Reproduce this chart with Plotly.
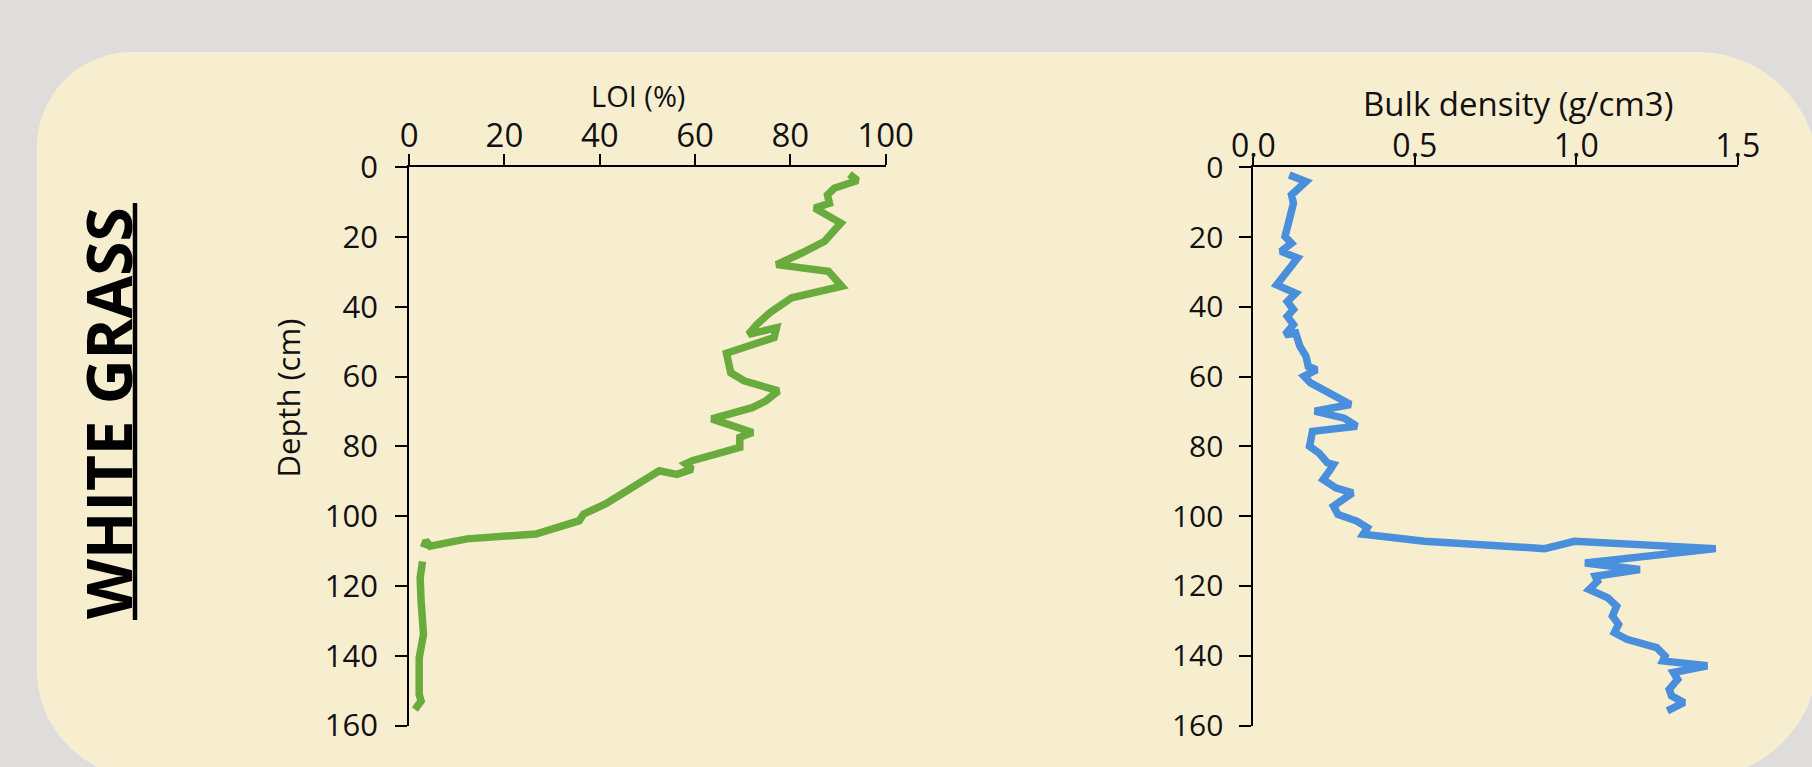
import plotly.graph_objects as go

W, H = 1812, 767

# Loss on ignition profile (depth in cm, LOI in %); None marks the sampling gap
loi_depth = [2.0, 3.8, 6.0, 7.9, 10.3, 11.7, 16.0, 18.9, 21.2, 24.5, 27.0, 27.9,
             29.8, 34.1, 37.4, 41.7, 45.0, 47.9, 46.0, 48.8, 53.3, 58.9, 61.2,
             64.1, 67.0, 68.9, 72.1, 76.0, 77.4, 80.3, 84.1, 85.0, 86.5, 88.0,
             87.0, 92.6, 96.5, 99.4, 101.3, 105.1, 106.5, 108.6, 107.0, 109.0,
             None, 113.0, 117.6, 124.3, 133.9, 140.6, 151.1, 153.0, 155.4]
loi_pct = [92.4, 94.1, 89.2, 87.8, 88.2, 85.1, 90.6, 88.9, 87.2, 82.5, 78.5, 77.1,
           88.0, 90.8, 80.3, 75.7, 73.0, 71.2, 77.1, 76.6, 66.6, 67.5, 70.3,
           77.5, 74.8, 72.0, 63.5, 72.1, 69.4, 69.4, 59.4, 58.0, 59.4, 56.2,
           52.5, 45.7, 41.2, 36.6, 35.7, 26.6, 12.1, 4.4, 3.5, 3.0,
           None, 2.8, 2.3, 2.5, 3.0, 2.1, 2.1, 2.5, 1.2]

# Bulk density profile (depth in cm, g/cm3)
bd_depth = [2.2, 4.1, 7.9, 10.3, 15.1, 19.8, 21.8, 24.1, 26.0, 29.4, 33.7, 36.1,
            38.5, 40.8, 42.7, 45.1, 48.0, 47.5, 51.3, 54.2, 57.1, 58.0, 59.9,
            61.8, 64.2, 68.0, 69.9, 71.9, 74.2, 75.7, 80.0, 81.9, 84.7, 85.2,
            87.1, 89.5, 91.9, 93.3, 97.1, 99.5, 101.4, 103.3, 105.2, 107.2,
            109.3, 107.2, 109.3, 113.4, 115.3, 117.2, 118.6, 121.0, 123.4,
            125.8, 128.6, 131.0, 133.4, 135.3, 137.7, 140.1, 141.5, 142.9,
            144.8, 146.8, 149.6, 151.5, 153.4, 155.8]
bd_val = [0.111, 0.163, 0.118, 0.124, 0.111, 0.098, 0.118, 0.085, 0.137, 0.111,
          0.072, 0.131, 0.105, 0.124, 0.105, 0.124, 0.098, 0.131, 0.144, 0.163,
          0.170, 0.196, 0.157, 0.177, 0.229, 0.301, 0.190, 0.281, 0.320, 0.183,
          0.174, 0.203, 0.229, 0.248, 0.235, 0.216, 0.255, 0.307, 0.248, 0.262,
          0.320, 0.353, 0.340, 0.530, 0.902, 0.994, 1.432, 1.027, 1.197, 1.059,
          1.066, 1.040, 1.098, 1.125, 1.112, 1.131, 1.118, 1.157, 1.249, 1.275,
          1.268, 1.406, 1.301, 1.314, 1.288, 1.295, 1.334, 1.282]

loi_ticks = [0, 20, 40, 60, 80, 100]
bd_ticks = [0.0, 0.5, 1.0, 1.5]
depth_ticks = [0, 20, 40, 60, 80, 100, 120, 140, 160]

FONT = "Open Sans"
GREEN = "#6aab3e"
BLUE = "#4a8fdc"
PANEL = "#f7eed0"
OUTER = "#dedddb"


def fx(p):
    return p / W


def fy(p):
    return 1 - p / H


def rounded_panel(left, top, right, bottom, radii):
    """Rounded rectangle as a cubic-bezier SVG path in paper units."""
    k = 0.5523
    tl, tr, br, bl = radii
    pts = []
    pts.append(f"M{fx(left + tl)},{fy(top)}")
    pts.append(f"L{fx(right - tr)},{fy(top)}")
    pts.append(f"C{fx(right - tr + k * tr)},{fy(top)} {fx(right)},{fy(top + tr - k * tr)} {fx(right)},{fy(top + tr)}")
    pts.append(f"L{fx(right)},{fy(bottom - br)}")
    pts.append(f"C{fx(right)},{fy(bottom - br + k * br)} {fx(right - br + k * br)},{fy(bottom)} {fx(right - br)},{fy(bottom)}")
    pts.append(f"L{fx(left + bl)},{fy(bottom)}")
    pts.append(f"C{fx(left + bl - k * bl)},{fy(bottom)} {fx(left)},{fy(bottom - bl + k * bl)} {fx(left)},{fy(bottom - bl)}")
    pts.append(f"L{fx(left)},{fy(top + tl)}")
    pts.append(f"C{fx(left)},{fy(top + tl - k * tl)} {fx(left + tl - k * tl)},{fy(top)} {fx(left + tl)},{fy(top)}")
    pts.append("Z")
    return " ".join(pts)


fig = go.Figure()
fig.add_trace(go.Scatter(x=loi_pct, y=loi_depth, mode="lines",
                         line=dict(color=GREEN, width=7.5),
                         xaxis="x", yaxis="y", showlegend=False, hoverinfo="skip"))
fig.add_trace(go.Scatter(x=bd_val, y=bd_depth, mode="lines",
                         line=dict(color=BLUE, width=7.5),
                         xaxis="x2", yaxis="y2", showlegend=False, hoverinfo="skip"))

axis_style = dict(showline=True, linecolor="black", linewidth=2, ticks="outside",
                  tickcolor="black", tickwidth=2, showgrid=False, zeroline=False,
                  fixedrange=True, automargin=False)
ydom = [fy(725.5), fy(167.3)]

fig.update_layout(
    width=W, height=H, margin=dict(l=0, r=0, t=0, b=0, pad=0, autoexpand=False),
    paper_bgcolor=OUTER, plot_bgcolor="rgba(0,0,0,0)",
    xaxis=dict(axis_style, domain=[fx(409.2), fx(885.6)], range=[0, 100], side="top",
               anchor="y", tickvals=loi_ticks, ticklen=11, ticklabelstandoff=-6,
               tickfont=dict(family=FONT, size=33, color="#111")),
    yaxis=dict(axis_style, domain=ydom, range=[160, 0], anchor="x",
               tickvals=depth_ticks, ticklen=12, ticklabelstandoff=11,
               tickfont=dict(family=FONT, size=31, color="#111")),
    xaxis2=dict(axis_style, domain=[fx(1253.4), fx(1737.7)], range=[0, 1.5], side="top",
                anchor="y2", tickvals=bd_ticks, tickformat=".1f", ticklen=8,
                ticklabelstandoff=-12,
                tickfont=dict(family=FONT, size=32, color="#111")),
    yaxis2=dict(axis_style, domain=ydom, range=[160, 0], anchor="x2",
                tickvals=depth_ticks, ticklen=12, ticklabelstandoff=10,
                tickfont=dict(family=FONT, size=30, color="#111")),
    shapes=[
        dict(type="path", xref="paper", yref="paper", layer="below",
             path=rounded_panel(37, 52, 1818, 778, (95, 121, 121, 108)),
             fillcolor=PANEL, line=dict(width=0)),
        dict(type="line", xref="paper", yref="paper",
             x0=fx(135), x1=fx(135), y0=fy(203), y1=fy(620),
             line=dict(color="black", width=4.5)),
    ],
    annotations=[
        dict(text="<b>WHITE GRASS</b>", xref="paper", yref="paper",
             x=fx(108), y=fy(413), textangle=-90, showarrow=False,
             xanchor="center", yanchor="middle",
             font=dict(family=FONT, size=62, color="black")),
        dict(text="LOI (%)", xref="paper", yref="paper",
             x=fx(638), y=fy(96), showarrow=False,
             xanchor="center", yanchor="middle",
             font=dict(family=FONT, size=29, color="#111")),
        dict(text="Bulk density (g/cm3)", xref="paper", yref="paper",
             x=fx(1518), y=fy(104), showarrow=False,
             xanchor="center", yanchor="middle",
             font=dict(family=FONT, size=33, color="#111")),
        dict(text="Depth (cm)", xref="paper", yref="paper",
             x=fx(287.5), y=fy(398), textangle=-90, showarrow=False,
             xanchor="center", yanchor="middle",
             font=dict(family=FONT, size=31, color="#111")),
    ],
)

fig.write_html("out.html")
